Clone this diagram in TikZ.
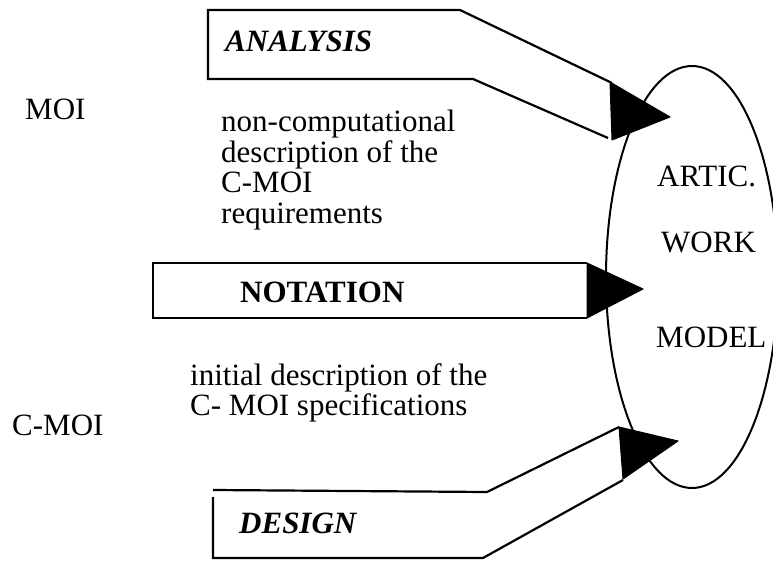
\documentclass[tikz,border=0pt]{standalone}
\usepackage{fontspec}
\setmainfont{Liberation Serif}
\usetikzlibrary{shapes.geometric}
\begin{document}
\begin{tikzpicture}[x=1pt,y=-1pt,
  txt/.style={anchor=base west,inner sep=0pt,font=\fontsize{31}{30}\selectfont},
  lbl/.style={txt,font=\fontsize{31}{30}\selectfont\bfseries},
  lbli/.style={txt,font=\fontsize{31}{30}\selectfont\bfseries\itshape},
  outline/.style={line width=2.2pt,line join=miter},
  head/.style={fill=black,draw=black,line width=1pt,line join=round}]
\useasboundingbox (0,0) rectangle (773,561);

% the model
\node[draw,line width=2pt,ellipse,minimum width=172pt,minimum height=422pt,inner sep=0pt] (model) at (692,277) {};
\node[txt] (artic) at (657,187) {ARTIC.};
\node[txt] (work) at (661,252) {WORK};
\node[txt] (modl) at (656,347) {MODEL};

% side labels
\node[txt] (moi) at (25,120) {MOI};
\node[txt] (cmoi) at (12,435) {C-MOI};

% descriptions
\node[txt] (d1) at (221,132) {non-computational};
\node[txt] (d2) at (221,162.5) {description of the};
\node[txt] (d3) at (221,193) {C-MOI};
\node[txt] (d4) at (221,223.5) {requirements};
\node[txt] (i1) at (190,385) {initial description of the};
\node[txt] (i2) at (190,415) {C- MOI specifications};

% ANALYSIS arrow
\coordinate (aT) at (612,83);
\coordinate (aB) at (608,138);
\draw[outline] (aT) -- (460,10) -- (208,10) -- (208,79) -- (473,79) -- (aB);
\filldraw[head] (610,82) -- (670,117) -- (612,140) -- cycle;
\node[lbli] (analysis) at (225,52) {ANALYSIS};

% NOTATION arrow
\draw[outline] (587,263) -- (153,263) -- (153,318) -- (587,318);
\filldraw[head] (587,263) -- (643,289) -- (587,318) -- cycle;
\node[lbl] (notation) at (240,302) {NOTATION};

% DESIGN arrow
\draw[outline] (213,490) -- (487,492) -- (619,427);
\draw[outline] (213,497) -- (213,558) -- (483,558) -- (623,480);
\filldraw[head] (619,427) -- (678,441) -- (623,479) -- cycle;
\node[lbli] (design) at (239,533) {DESIGN};
\end{tikzpicture}
\end{document}
